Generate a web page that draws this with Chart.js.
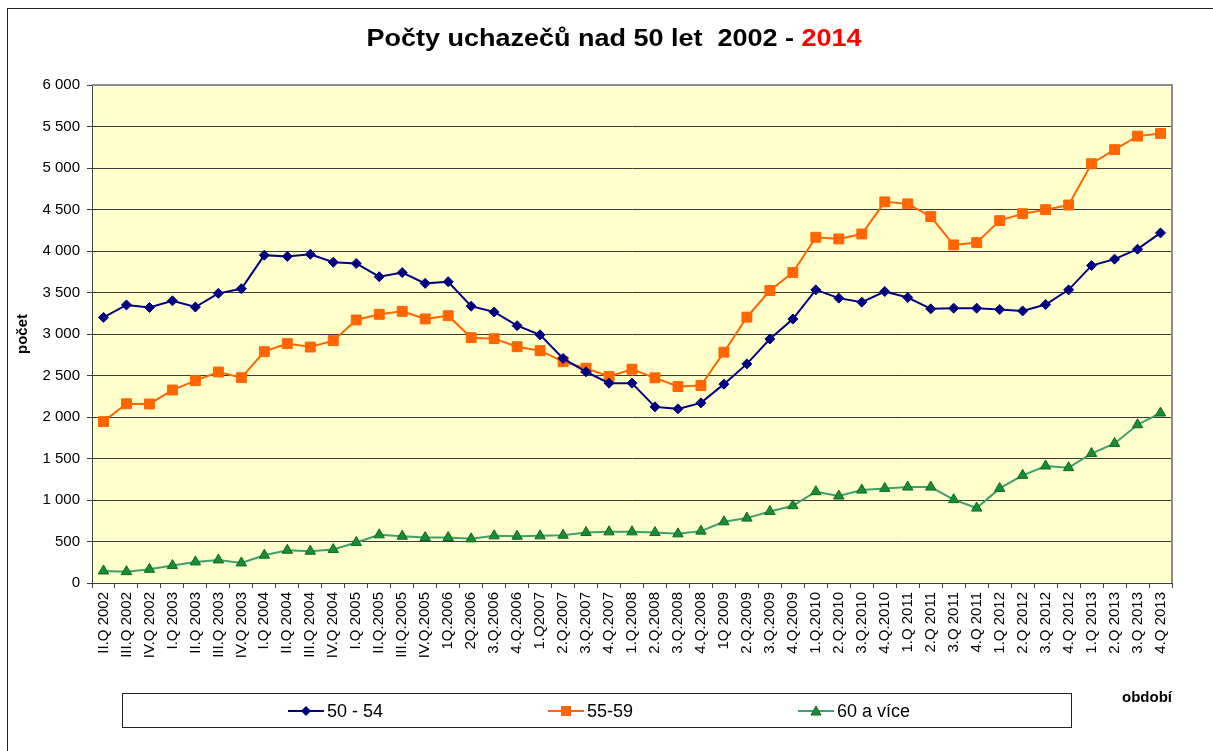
<!DOCTYPE html>
<html>
<head>
<meta charset="utf-8">
<script src="https://cdn.jsdelivr.net/npm/chart.js"></script>
<style>
	body { margin: 0; background: #fff; font-family: "Liberation Sans", Arial, sans-serif; }
	#wrap { position: relative; width: 1213px; height: 751px; overflow: hidden; }
	#chart { position: absolute; left: 0; top: 0; }
	.frame { position: absolute; left: 7px; top: 8px; width: 1230px; height: 760px; border: 1px solid #222; }
	.title { position: absolute; left: 614px; top: 23px; font-size: 24px; font-weight: bold; line-height: 30px;
		white-space: pre; transform: translateX(-50%) scaleX(1.125); color: #000; }
	.title span { color: #ff0000; }
	.legend { position: absolute; left: 122px; top: 693px; width: 948px; height: 33px; border: 1px solid #222; background: #fff; }
	.item { position: absolute; top: 5px; height: 24px; display: flex; align-items: center; font-size: 18px; white-space: nowrap; }
	.item svg { margin-right: 3px; }
	.obdobi { position: absolute; left: 1122px; top: 688px; font-size: 15px; font-weight: bold; }
</style>
</head>
<body>
<div id="wrap">
	<canvas id="chart" width="1213" height="751"></canvas>
	<div class="frame"></div>
	<div class="title">Počty uchazečů nad 50 let  2002 - <span>2014</span></div>
	<div class="legend">
		<div class="item" style="left:165px">
			<svg width="36" height="14"><line x1="0" y1="7" x2="36" y2="7" stroke="#000080" stroke-width="2"/><path d="M18 2 L23 7 L18 12 L13 7 Z" fill="#000080"/></svg>50 - 54
		</div>
		<div class="item" style="left:425px">
			<svg width="36" height="14"><line x1="0" y1="7" x2="36" y2="7" stroke="#ff6600" stroke-width="2"/><rect x="13" y="2" width="10" height="10" fill="#ff6600"/></svg>55-59
		</div>
		<div class="item" style="left:675px">
			<svg width="36" height="14"><line x1="0" y1="7" x2="36" y2="7" stroke="#3f9f6f" stroke-width="2"/><path d="M18 2 L23 11 L13 11 Z" fill="#1a8c33" stroke="#0b6b1f"/></svg>60 a více
		</div>
	</div>
	<div class="obdobi">období</div>
</div>
<script>
// období (čtvrtletí)
const labels = ['II.Q 2002', 'III.Q 2002', 'IV.Q 2002', 'I.Q 2003', 'II.Q 2003', 'III.Q 2003', 'IV.Q 2003',
	'I.Q 2004', 'II.Q 2004', 'III.Q 2004', 'IV.Q 2004', 'I.Q 2005', 'II.Q.2005', 'III.Q.2005', 'IV.Q.2005',
	'1Q.2006', '2Q.2006', '3.Q.2006', '4.Q.2006', '1.Q2007', '2.Q.2007', '3.Q.2007', '4.Q.2007',
	'1.Q.2008', '2.Q.2008', '3.Q.2008', '4.Q.2008', '1Q 2009', '2.Q.2009', '3.Q.2009', '4.Q.2009',
	'1.Q.2010', '2.Q.2010', '3.Q.2010', '4.Q.2010', '1.Q 2011', '2.Q 2011', '3.Q 2011', '4.Q 2011',
	'1.Q 2012', '2.Q 2012', '3.Q 2012', '4.Q 2012', '1.Q 2013', '2.Q 2013', '3.Q 2013', '4.Q 2013'];

const age50_54 = [3200, 3350, 3320, 3400, 3325, 3490, 3545, 3950, 3935, 3960, 3865, 3850, 3690, 3740, 3610, 3630,
	3335, 3265, 3100, 2990, 2705, 2545, 2408, 2408, 2122, 2098, 2170, 2396, 2640, 2940, 3180, 3532,
	3432, 3384, 3512, 3440, 3303, 3311, 3311, 3295, 3278, 3355, 3532, 3825, 3902, 4022, 4218];

const age55_59 = [1945, 2160, 2157, 2325, 2438, 2542, 2474, 2787, 2884, 2843, 2920, 3169, 3237, 3273, 3181, 3221,
	2956, 2944, 2847, 2799, 2667, 2588, 2488, 2576, 2472, 2367, 2379, 2781, 3203, 3524, 3741, 4165,
	4145, 4205, 4592, 4568, 4415, 4073, 4101, 4366, 4450, 4498, 4554, 5052, 5221, 5384, 5416];

const age60plus = [145, 137, 165, 210, 254, 278, 242, 335, 395, 383, 403, 488, 580, 564, 548, 548,
	532, 568, 564, 568, 576, 608, 616, 616, 608, 592, 625, 737, 782, 862, 931, 1100,
	1048, 1120, 1140, 1156, 1156, 1004, 903, 1140, 1297, 1410, 1390, 1560, 1681, 1907, 2048];

const yMax = 6000;
const yStep = 500;

// "6 000" – mezera jako oddělovač tisíců
function fmt(v) {
	return String(v).replace(/\B(?=(\d{3})+(?!\d))/g, ' ');
}

// žluté pozadí grafu + šedý rámeček nahoře a vpravo
const plotBg = {
	id: 'plotBg',
	beforeDraw(chart) {
		const {ctx, chartArea: a} = chart;
		ctx.save();
		ctx.fillStyle = '#ffffcc';
		ctx.fillRect(a.left, a.top, a.right - a.left, a.bottom - a.top);
		ctx.restore();
	},
	afterDraw(chart) {
		const {ctx, chartArea: a} = chart;
		ctx.save();
		ctx.strokeStyle = '#8c8c8c';
		ctx.lineWidth = 2;
		ctx.beginPath();
		ctx.moveTo(a.left, a.top);
		ctx.lineTo(a.right, a.top);
		ctx.lineTo(a.right, a.bottom);
		ctx.stroke();
		ctx.restore();
	}
};

const tickFont = { family: '"Liberation Sans", Arial, sans-serif', size: 15 };

new Chart(document.getElementById('chart'), {
	type: 'line',
	data: {
		labels: labels,
		datasets: [{
			label: '50 - 54',
			data: age50_54,
			borderColor: '#000080',
			backgroundColor: '#000080',
			borderWidth: 2,
			pointStyle: 'rectRot',
			pointRadius: 5,
			pointBorderWidth: 1,
			tension: 0
		}, {
			label: '55-59',
			data: age55_59,
			borderColor: '#ff6600',
			backgroundColor: '#ff6600',
			borderWidth: 2,
			pointStyle: 'rect',
			pointRadius: 7,
			pointBorderWidth: 1,
			tension: 0
		}, {
			label: '60 a více',
			data: age60plus,
			borderColor: '#3f9f6f',
			backgroundColor: '#1a8c33',
			pointBorderColor: '#0b6b1f',
			borderWidth: 2,
			pointStyle: 'triangle',
			pointRadius: 6,
			pointBorderWidth: 1,
			tension: 0
		}]
	},
	options: {
		responsive: false,
		animation: false,
		layout: { padding: { left: 0, top: 85, right: 41, bottom: 0 } },
		plugins: {
			legend: { display: false },
			title: { display: false },
			tooltip: { enabled: false }
		},
		scales: {
			x: {
				offset: true,
				grid: { offset: true, drawOnChartArea: false, tickLength: 5, color: '#404040' },
				border: { color: '#404040', width: 1 },
				ticks: { font: tickFont, color: '#000', minRotation: 90, maxRotation: 90, autoSkip: false, padding: 4 },
				afterFit: (axis) => { axis.height = 168; }
			},
			y: {
				min: 0,
				max: yMax,
				ticks: { stepSize: yStep, font: tickFont, color: '#000', padding: 7, callback: (v) => fmt(v) },
				grid: { color: '#3a3a3a', tickLength: 5 },
				border: { color: '#404040', width: 1 },
				title: {
					display: true,
					text: 'počet',
					color: '#000',
					font: { family: '"Liberation Sans", Arial, sans-serif', size: 15, weight: 'bold' },
					padding: { top: 14, bottom: 0 }
				},
				afterFit: (axis) => { axis.width = 92; }
			}
		}
	},
	plugins: [plotBg]
});
</script>
</body>
</html>
